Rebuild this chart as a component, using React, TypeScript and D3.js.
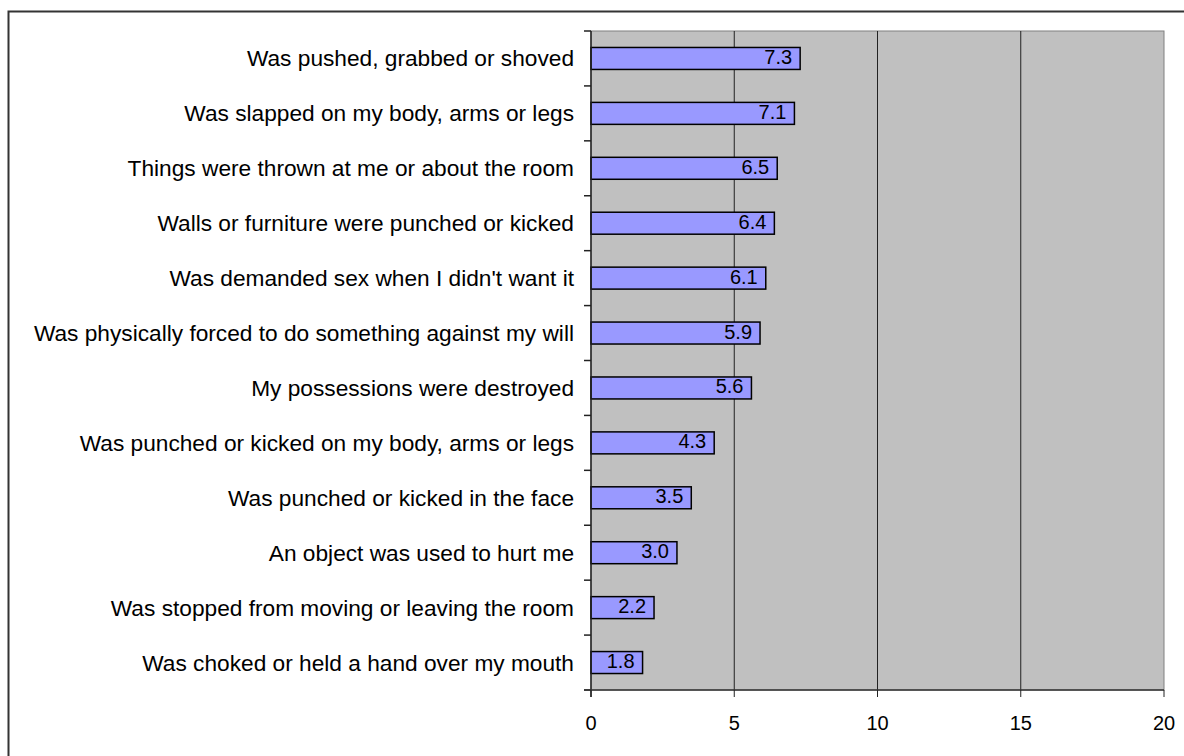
import React from "react";
import * as d3 from "d3";

const categories = [
  "Was pushed, grabbed or shoved",
  "Was slapped on my body, arms or legs",
  "Things were thrown at me or about the room",
  "Walls or furniture were punched or kicked",
  "Was demanded sex when I didn't want it",
  "Was physically forced to do something against my will",
  "My possessions were destroyed",
  "Was punched or kicked on my body, arms or legs",
  "Was punched or kicked in the face",
  "An object was used to hurt me",
  "Was stopped from moving or leaving the room",
  "Was choked or held a hand over my mouth",
];
const values = [7.3, 7.1, 6.5, 6.4, 6.1, 5.9, 5.6, 4.3, 3.5, 3.0, 2.2, 1.8];
const xTicks = [0, 5, 10, 15, 20];

export default function App() {
  const W = 1184, H = 756;
  const left = 591, right = 1164, top = 31, bottom = 690;
  const x = d3.scaleLinear().domain([0, 20]).range([left, right]);
  const y = d3.scaleBand<string>().domain(categories).range([top, bottom]).paddingInner(0.6).paddingOuter(0.3);
  const yb = d3.scaleBand<string>().domain(categories).range([top, bottom]);
  const font = "Liberation Sans, Arial, sans-serif";
  return (
    <svg width={W} height={H} style={{ position: "absolute", left: 0, top: 0, background: "#fff" }} fontFamily={font}>
      <rect x={8.5} y={11.5} width={W + 20} height={H + 20} fill="#fff" stroke="#333" strokeWidth={2} />
      <rect x={left} y={top} width={right - left} height={bottom - top} fill="#C0C0C0" stroke="#808080" strokeWidth={1} />
      {xTicks.slice(1, -1).map((t) => (
        <line key={t} x1={x(t)} x2={x(t)} y1={top} y2={bottom} stroke="#222" strokeWidth={1} />
      ))}
      {categories.map((c, i) => (
        <g key={c}>
          <rect x={x(0)} y={y(c)!} width={x(values[i]) - x(0)} height={y.bandwidth()} fill="#9999FF" stroke="#000" strokeWidth={1.5} />
          <text x={x(values[i]) - 8} y={y(c)! + y.bandwidth() / 2 + 5.5} textAnchor="end" fontSize={20} fill="#000">
            {values[i].toFixed(1)}
          </text>
          <text x={574} y={yb(c)! + yb.bandwidth() / 2 + 8} textAnchor="end" fontSize={22.7} fill="#000">
            {c}
          </text>
        </g>
      ))}
      {/* y axis */}
      <line x1={left} x2={left} y1={top} y2={bottom + 7} stroke="#222" strokeWidth={1.5} />
      {[...categories.map((c) => yb(c)!), bottom].map((v, i) => (
        <line key={i} x1={left - 7} x2={left} y1={v} y2={v} stroke="#222" strokeWidth={1.5} />
      ))}
      {/* x axis */}
      <line x1={left - 7} x2={right} y1={bottom} y2={bottom} stroke="#333" strokeWidth={1.5} />
      {xTicks.map((t) => (
        <g key={t}>
          <line x1={x(t)} x2={x(t)} y1={bottom} y2={bottom + 7} stroke="#222" strokeWidth={1} />
          <text x={x(t)} y={730} textAnchor="middle" fontSize={20} fill="#000">{t}</text>
        </g>
      ))}
    </svg>
  );
}
